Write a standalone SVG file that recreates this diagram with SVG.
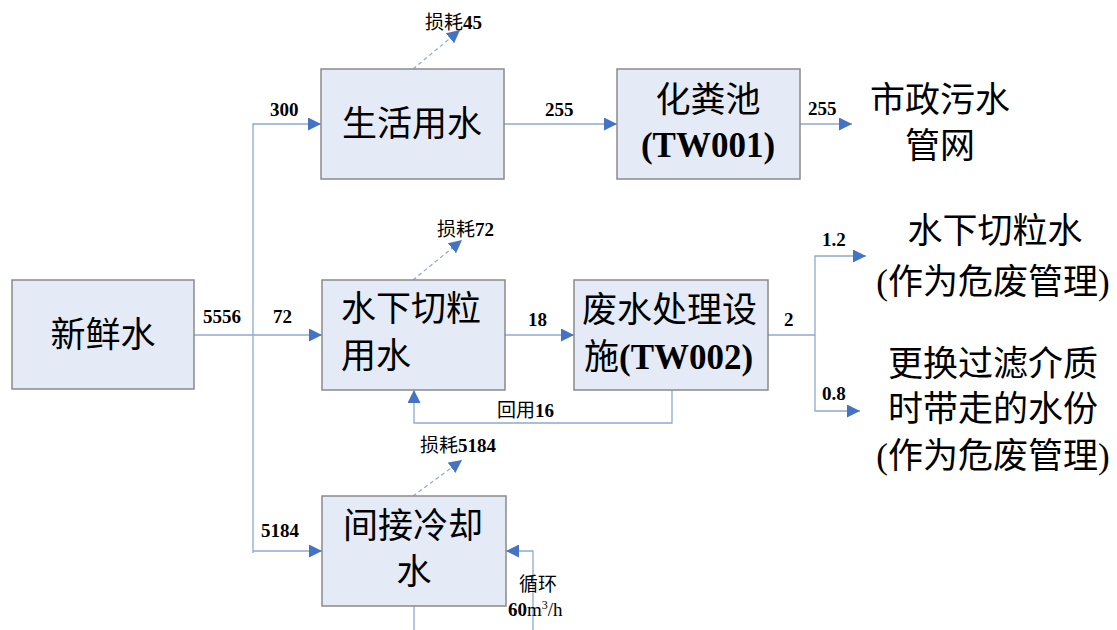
<svg xmlns="http://www.w3.org/2000/svg" width="1117" height="630" viewBox="0 0 1117 630">
<defs>
<marker id="ahb" viewBox="0 0 10 10" refX="10" refY="5" markerWidth="13" markerHeight="13" markerUnits="userSpaceOnUse" orient="auto">
<path d="M0,0 L10,5 L0,10 z" fill="#4472c4"/>
</marker>
</defs>
<style>
.box{fill:#e4ebf6;stroke:#8a8a8a;stroke-width:1.5}
.big{font-family:"Liberation Serif","Noto Sans CJK SC",serif;font-size:35px;fill:#000}
.bigb{font-family:"Liberation Serif","Noto Sans CJK SC",serif;font-size:35px;font-weight:bold;fill:#000}
.lbl{font-family:"Liberation Serif","Noto Sans CJK SC",serif;font-size:19px;font-weight:bold;fill:#000}
.sm{font-family:"Liberation Serif","Noto Sans CJK SC",serif;font-size:19px;fill:#000}
.ln{fill:none;stroke:#8fa8d2;stroke-width:1.3}
.dash{fill:none;stroke:#8fa8d2;stroke-width:1.2;stroke-dasharray:4 3}
</style>
<rect width="1117" height="630" fill="#fff"/>
<g id="connectors">
<path class="ln" d="M194,335 H322" marker-end="url(#ahb)"/>
<path class="ln" d="M253,553 V124 H321" marker-end="url(#ahb)"/>
<path class="ln" d="M253,551 H322" marker-end="url(#ahb)"/>
<path class="ln" d="M504,124 H617" marker-end="url(#ahb)"/>
<path class="ln" d="M800,124 H852" marker-end="url(#ahb)"/>
<path class="ln" d="M505,335 H574" marker-end="url(#ahb)"/>
<path class="ln" d="M768,335 H815"/>
<path class="ln" d="M815,335 V256 H866" marker-end="url(#ahb)"/>
<path class="ln" d="M815,335 V411 H860" marker-end="url(#ahb)"/>
<path class="ln" d="M672,390 V423 H414 V390" marker-end="url(#ahb)"/>
<path class="dash" d="M413,69 L460,30" marker-end="url(#ahb)"/>
<path class="dash" d="M413,280 L462,240" marker-end="url(#ahb)"/>
<path class="dash" d="M413,496 L462,460" marker-end="url(#ahb)"/>
<path class="ln" d="M533,630 V551 H506" marker-end="url(#ahb)"/>
<path class="ln" d="M414,606 V630"/>
<text class="lbl" x="270" y="116">300</text>
<text class="lbl" x="545" y="116">255</text>
<text class="lbl" x="808" y="115">255</text>
<text class="lbl" x="203" y="323">5556</text>
<text class="lbl" x="273" y="323">72</text>
<text class="lbl" x="528" y="326">18</text>
<text class="lbl" x="784" y="326">2</text>
<text class="lbl" x="822" y="246">1.2</text>
<text class="lbl" x="822" y="400">0.8</text>
<text class="lbl" x="261" y="537">5184</text>
<text class="sm" x="425" y="29">损耗<tspan font-weight="bold">45</tspan></text>
<text class="sm" x="437" y="236">损耗<tspan font-weight="bold">72</tspan></text>
<text class="sm" x="420" y="452">损耗<tspan font-weight="bold">5184</tspan></text>
<text class="sm" x="497" y="417">回用<tspan font-weight="bold">16</tspan></text>
<text class="sm" x="519" y="591">循环</text>
<text class="lbl" x="508" y="616">60<tspan font-weight="normal">m</tspan><tspan font-weight="normal" font-size="12" dy="-7">3</tspan><tspan font-weight="normal" dy="7">/h</tspan></text>
</g>
<g id="fresh">
<rect class="box" x="12" y="280" width="182" height="109"/>
<text class="big" x="103" y="347" text-anchor="middle">新鲜水</text>
</g>
<g id="domestic">
<rect class="box" x="321" y="69" width="183" height="110"/>
<text class="big" x="412" y="136" text-anchor="middle">生活用水</text>
</g>
<g id="septic">
<rect class="box" x="617" y="69" width="183" height="110"/>
<text class="big" x="708" y="112" text-anchor="middle">化粪池</text>
<text class="bigb" x="708" y="157" text-anchor="middle">(TW001)</text>
</g>
<g id="municipal">
<text class="big" x="940" y="112" text-anchor="middle">市政污水</text>
<text class="big" x="940" y="158" text-anchor="middle">管网</text>
</g>
<g id="pelletizing">
<rect class="box" x="322" y="280" width="183" height="110"/>
<text class="big" x="341" y="321">水下切粒</text>
<text class="big" x="341" y="368">用水</text>
</g>
<g id="wwtp">
<rect class="box" x="574" y="280" width="194" height="110"/>
<text class="big" x="582" y="322">废水处理设</text>
<text class="big" x="584" y="369">施<tspan font-weight="bold">(TW002)</tspan></text>
</g>
<g id="haz1">
<text class="big" x="995" y="243" text-anchor="middle">水下切粒水</text>
<text class="big" x="993" y="294" text-anchor="middle">(作为危废管理)</text>
</g>
<g id="haz2">
<text class="big" x="993" y="376" text-anchor="middle">更换过滤介质</text>
<text class="big" x="993" y="421" text-anchor="middle">时带走的水份</text>
<text class="big" x="993" y="468" text-anchor="middle">(作为危废管理)</text>
</g>
<g id="cooling">
<rect class="box" x="322" y="496" width="184" height="110"/>
<text class="big" x="343" y="538">间接冷却</text>
<text class="big" x="414" y="584" text-anchor="middle">水</text>
</g>
</svg>
